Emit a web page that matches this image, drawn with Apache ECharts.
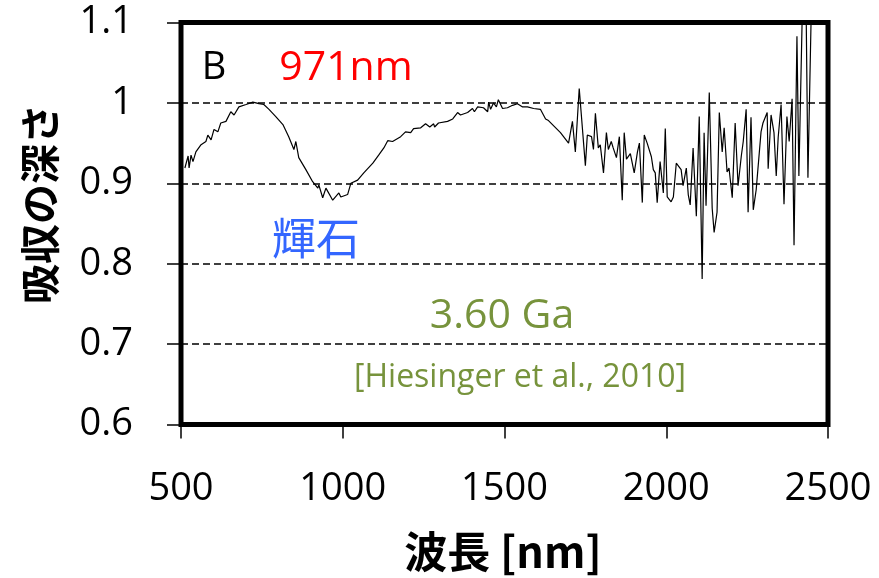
<!DOCTYPE html>
<html>
<head>
<meta charset="utf-8">
<script src="https://cdn.jsdelivr.net/npm/echarts@6/dist/echarts.min.js"></script>
<style>
  html, body { margin: 0; padding: 0; background: #fff; }
  #chart { width: 879px; height: 578px; }
</style>
</head>
<body>
<div id="chart"></div>
<script>
// Wavelength samples (nm) and band depth of the spectrum
const wavelength = [
  512, 522, 525, 531, 537, 546, 562, 577, 583, 593, 602, 614, 623, 639, 654, 664, 679, 701, 722, 741,
  756, 772, 793, 815, 833, 849, 855, 864, 886, 907, 923, 926, 938, 948, 969, 988, 994, 1015, 1025, 1046,
  1065, 1093, 1111, 1127, 1139, 1154, 1179, 1194, 1210, 1219, 1241, 1256, 1269, 1281, 1284, 1296, 1324, 1340, 1355, 1364,
  1386, 1401, 1407, 1417, 1435, 1448, 1451, 1457, 1466, 1475, 1481, 1494, 1509, 1525, 1540, 1556, 1571, 1590, 1611, 1627,
  1636, 1673, 1698, 1710, 1719, 1731, 1750, 1756, 1769, 1775, 1781, 1790, 1796, 1806, 1815, 1821, 1830, 1836, 1846, 1855,
  1864, 1870, 1877, 1889, 1895, 1901, 1911, 1917, 1926, 1932, 1941, 1954, 1960, 1966, 1972, 1981, 1991, 1997, 2003, 2015,
  2022, 2031, 2037, 2046, 2052, 2062, 2068, 2074, 2083, 2093, 2102, 2111, 2117, 2123, 2133, 2142, 2148, 2157, 2164, 2173,
  2179, 2188, 2194, 2204, 2213, 2222, 2232, 2238, 2247, 2253, 2262, 2269, 2278, 2284, 2293, 2299, 2312, 2315, 2324, 2333,
  2340, 2346, 2355, 2364, 2373, 2380, 2389, 2395, 2404, 2410, 2423, 2432, 2438, 2451
];
const depth = [
  0.919, 0.934, 0.919, 0.935, 0.927, 0.939, 0.948, 0.952, 0.960, 0.954, 0.967, 0.964, 0.975, 0.977, 0.989, 0.985, 0.995, 0.998, 1.001, 0.999,
  0.998, 0.992, 0.983, 0.973, 0.958, 0.942, 0.952, 0.932, 0.917, 0.902, 0.894, 0.898, 0.882, 0.894, 0.879, 0.888, 0.883, 0.886, 0.900, 0.904,
  0.913, 0.925, 0.935, 0.944, 0.953, 0.952, 0.958, 0.964, 0.963, 0.968, 0.969, 0.974, 0.970, 0.974, 0.970, 0.975, 0.977, 0.980, 0.988, 0.985,
  0.988, 0.993, 0.989, 0.995, 0.994, 0.989, 1.001, 0.992, 1.000, 0.995, 1.004, 0.993, 0.994, 0.997, 0.999, 0.995, 0.995, 0.993, 0.992, 0.980,
  0.978, 0.963, 0.950, 0.977, 0.939, 1.018, 0.922, 0.960, 0.958, 0.942, 0.987, 0.944, 0.948, 0.913, 0.963, 0.942, 0.952, 0.944, 0.932, 0.958,
  0.879, 0.963, 0.930, 0.937, 0.935, 0.913, 0.939, 0.950, 0.876, 0.960, 0.950, 0.933, 0.917, 0.913, 0.876, 0.927, 0.888, 0.968, 0.883, 0.877,
  0.883, 0.925, 0.924, 0.917, 0.897, 0.919, 0.886, 0.873, 0.944, 0.859, 0.983, 0.781, 0.963, 0.872, 1.013, 0.869, 0.839, 0.864, 0.988, 0.939,
  0.969, 0.914, 0.919, 0.882, 0.975, 0.897, 0.934, 0.952, 0.992, 0.864, 0.982, 0.867, 0.892, 0.893, 0.964, 0.975, 0.988, 0.918, 0.985, 0.963,
  0.909, 0.957, 0.998, 0.874, 0.983, 0.952, 1.005, 0.823, 1.083, 0.909, 1.160, 1.130, 0.907, 1.170
];

const xTicks = [500, 1000, 1500, 2000, 2500];
const yTicks = [0.6, 0.7, 0.8, 0.9, 1, 1.1];

const LATIN = '"Open Sans", "Noto Sans", sans-serif';
const CJK = '"Noto Sans CJK JP", sans-serif';

const chart = echarts.init(document.getElementById('chart'), null, { renderer: 'canvas' });

const grid = { left: 181, top: 22.5, right: 51, bottom: 153.5 };

chart.setOption({
  animation: false,
  backgroundColor: '#ffffff',
  grid: Object.assign({ show: true, borderColor: '#000', borderWidth: 5, backgroundColor: 'transparent' }, grid),
  xAxis: {
    type: 'value',
    min: xTicks[0],
    max: xTicks[xTicks.length - 1],
    interval: 500,
    axisLine: { show: false },
    axisTick: { show: true, inside: false, length: 14, lineStyle: { color: '#000', width: 1.5 } },
    axisLabel: { margin: 46, color: '#000', fontFamily: LATIN, fontSize: 38, formatter: v => String(v) },
    splitLine: { show: false }
  },
  yAxis: {
    type: 'value',
    min: yTicks[0],
    max: yTicks[yTicks.length - 1],
    interval: 0.1,
    axisLine: { show: false },
    axisTick: { show: true, inside: false, length: 14, lineStyle: { color: '#000', width: 1.5 } },
    axisLabel: {
      margin: 48, color: '#000', fontFamily: LATIN, fontSize: 38,
      formatter: v => String(Math.round(v * 10) / 10)
    },
    splitLine: {
      show: true,
      lineStyle: { color: '#000', width: 1.5, type: [7, 4] }
    }
  },
  series: [{
    type: 'line',
    data: wavelength.map((w, i) => [w, depth[i]]),
    showSymbol: false,
    symbol: 'none',
    clip: true,
    lineStyle: { color: '#000', width: 1.2 },
    z: 3
  }],
  graphic: [
    {
      type: 'text', x: 40, y: 204, rotation: Math.PI / 2,
      style: { text: '吸収の深さ', font: 'bold 40px ' + CJK, fill: '#000', textAlign: 'center', textVerticalAlign: 'middle' }
    },
    {
      type: 'text', x: 503, y: 552,
      style: { text: '波長 [nm]', font: 'bold 43px ' + CJK, fill: '#000', textAlign: 'center', textVerticalAlign: 'middle' }
    },
    {
      type: 'text', x: 214, y: 68,
      style: { text: 'B', font: '38px ' + LATIN, fill: '#000', textAlign: 'center', textVerticalAlign: 'middle' }
    },
    {
      type: 'text', x: 346, y: 68,
      style: { text: '971nm', font: '41px ' + LATIN, fill: '#ff0000', textAlign: 'center', textVerticalAlign: 'middle' }
    },
    {
      type: 'text', x: 316, y: 238,
      style: { text: '輝石', font: '44px ' + CJK, fill: '#3366ff', textAlign: 'center', textVerticalAlign: 'middle' }
    },
    {
      type: 'text', x: 502, y: 316,
      style: { text: '3.60 Ga', font: '41px ' + LATIN, fill: '#77933c', textAlign: 'center', textVerticalAlign: 'middle' }
    },
    {
      type: 'text', x: 520, y: 378,
      style: { text: '[Hiesinger et al., 2010]', font: '32px ' + LATIN, fill: '#77933c', textAlign: 'center', textVerticalAlign: 'middle' }
    }
  ]
});
</script>
</body>
</html>
